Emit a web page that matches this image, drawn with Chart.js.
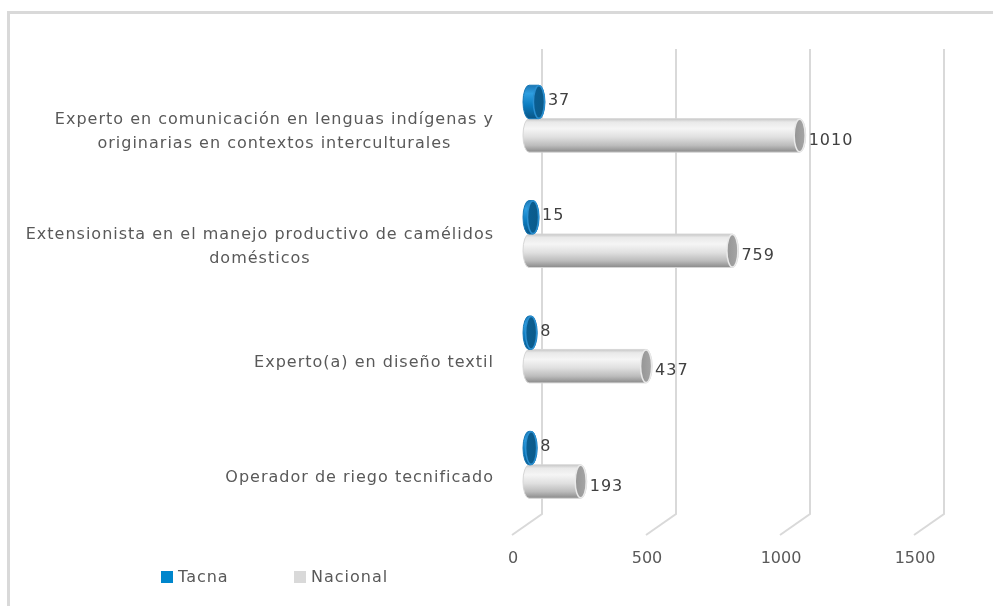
<!DOCTYPE html>
<html>
<head>
<meta charset="utf-8">
<script src="https://cdn.jsdelivr.net/npm/chart.js@4/dist/chart.umd.min.js"></script>
<style>
  html, body { margin: 0; padding: 0; background: #ffffff; }
  #wrap { width: 993px; height: 606px; position: relative; }
  canvas { display: block; }
</style>
</head>
<body>
<div id="wrap"><canvas id="c" width="993" height="606"></canvas></div>
<script>
// ---- data ----
const categories = [
  ['Experto en comunicación en lenguas indígenas y', 'originarias en contextos interculturales'],
  ['Extensionista en el manejo productivo de camélidos', 'domésticos'],
  ['Experto(a) en diseño textil'],
  ['Operador de riego tecnificado']
];
const seriesNames = ['Tacna', 'Nacional'];
const tacna = [37, 15, 8, 8];
const nacional = [1010, 759, 437, 193];
const xTickValues = [0, 500, 1000, 1500];

const FONT = '"DejaVu Sans", "Open Sans", sans-serif';
const legendColors = ['#0086CC', '#D9D9D9'];

function cylinder(ctx, x0, x1, yc, h, style) {
  const rx = 6, ry = h / 2;
  const top = yc - ry, bot = yc + ry;
  ctx.save();
  const g = ctx.createLinearGradient(0, top, 0, bot);
  style.body.forEach(s => g.addColorStop(s[0], s[1]));
  ctx.beginPath();
  ctx.moveTo(x1, top);
  ctx.lineTo(x0, top);
  ctx.ellipse(x0, yc, rx, ry, 0, -Math.PI / 2, Math.PI / 2, true);
  ctx.lineTo(x1, bot);
  ctx.ellipse(x1, yc, rx, ry, 0, Math.PI / 2, -Math.PI / 2, true);
  ctx.closePath();
  ctx.fillStyle = g;
  ctx.fill();
  ctx.lineWidth = 1;
  ctx.strokeStyle = style.outline;
  ctx.stroke();
  ctx.beginPath();
  ctx.ellipse(x1, yc, rx - 0.5, ry - 0.5, 0, 0, Math.PI * 2);
  const cg = ctx.createLinearGradient(x1 - rx, 0, x1 + rx, 0);
  cg.addColorStop(0, style.cap[0]);
  cg.addColorStop(1, style.cap[1]);
  ctx.fillStyle = cg;
  ctx.fill();
  ctx.lineWidth = 1.5;
  ctx.strokeStyle = style.rim;
  ctx.stroke();
  ctx.restore();
}

const styles = [
  {
    body: [[0, '#1c78b6'], [0.25, '#2e9ee0'], [0.6, '#0b7cc0'], [1, '#0a5585']],
    cap: ['#0a5f94', '#0c5a88'],
    rim: '#2a8fd0',
    outline: '#1677b5'
  },
  {
    body: [[0, '#c6c6c6'], [0.1, '#e9e9e9'], [0.3, '#f5f5f5'], [0.55, '#e0e0e0'], [0.8, '#bcbcbc'], [1, '#8a8a8a']],
    cap: ['#959595', '#a6a6a6'],
    rim: '#e9e9e9',
    outline: '#d6d6d6'
  }
];

const plugin3d = {
  id: 'plugin3d',
  beforeDraw(chart) {
    const ctx = chart.ctx;
    ctx.save();
    ctx.fillStyle = '#ffffff';
    ctx.fillRect(0, 0, chart.width, chart.height);
    ctx.strokeStyle = '#d9d9d9';
    ctx.lineWidth = 3;
    ctx.strokeRect(8.5, 12.5, 1000, 700);
    ctx.restore();
  },
  beforeDatasetsDraw(chart) {
    const ctx = chart.ctx;
    const xs = chart.scales.x;
    const area = chart.chartArea;
    ctx.save();
    ctx.strokeStyle = '#d9d9d9';
    ctx.lineWidth = 2;
    xTickValues.forEach(v => {
      const xb = Math.round(xs.getPixelForValue(v) + 13);
      ctx.beginPath();
      ctx.moveTo(xb, area.top - 12);
      ctx.lineTo(xb, area.bottom - 8.5);
      ctx.lineTo(xb - 30, area.bottom + 12.5);
      ctx.stroke();
    });
    ctx.restore();
    [1, 0].forEach(di => {
      const meta = chart.getDatasetMeta(di);
      meta.data.forEach(el => {
        const p = el.getProps(['x', 'y', 'base', 'height'], true);
        cylinder(ctx, p.base, p.x, p.y, p.height, styles[di]);
      });
    });
    ctx.save();
    ctx.font = '16px ' + FONT;
    ctx.letterSpacing = '1px';
    ctx.fillStyle = '#404040';
    ctx.textAlign = 'left';
    ctx.textBaseline = 'middle';
    [0, 1].forEach(di => {
      const meta = chart.getDatasetMeta(di);
      const vals = chart.data.datasets[di].data;
      meta.data.forEach((el, i) => {
        const p = el.getProps(['x', 'y'], true);
        ctx.fillText(String(vals[i]), p.x + 9, p.y + (di === 1 ? 5 : -1));
      });
    });
    ctx.restore();
    return false;
  },
  afterDraw(chart) {
    const ctx = chart.ctx;
    const ys = chart.scales.y;
    ctx.save();
    ctx.font = '16px ' + FONT;
    ctx.letterSpacing = '1px';
    ctx.fillStyle = '#595959';
    ctx.textAlign = 'center';
    ctx.textBaseline = 'middle';
    const rightEdge = 494, lh = 24;
    categories.forEach((lines, i) => {
      const yc = ys.getPixelForTick(i) + 13;
      const w = Math.max(...lines.map(l => ctx.measureText(l).width));
      const cx = rightEdge - w / 2;
      const y0 = yc - (lines.length - 1) * lh / 2;
      lines.forEach((l, k) => ctx.fillText(l, cx, y0 + k * lh));
    });
    const items = [{ x: 161 }, { x: 294 }];
    ctx.textAlign = 'left';
    chart.data.datasets.forEach((ds, i) => {
      ctx.fillStyle = legendColors[i];
      ctx.fillRect(items[i].x, 571, 12, 12);
      ctx.fillStyle = '#595959';
      ctx.fillText(ds.label, items[i].x + 17, 578);
    });
    ctx.restore();
  }
};

new Chart(document.getElementById('c'), {
  type: 'bar',
  data: {
    labels: categories,
    datasets: [
      { label: seriesNames[0], data: tacna, backgroundColor: legendColors[0] },
      { label: seriesNames[1], data: nacional, backgroundColor: legendColors[1] }
    ]
  },
  options: {
    indexAxis: 'y',
    responsive: false,
    animation: false,
    events: [],
    categoryPercentage: 0.58,
    barPercentage: 1.0,
    layout: { padding: { left: 0, right: 62, top: 61, bottom: 0 } },
    plugins: {
      legend: { display: false },
      tooltip: { enabled: false }
    },
    scales: {
      x: {
        min: 0,
        max: 1500,
        ticks: {
          stepSize: 500,
          labelOffset: -16,
          padding: 27,
          color: '#595959',
          font: { family: FONT, size: 16 },
          callback: (v) => String(v)
        },
        grid: { display: false, drawTicks: false },
        border: { display: false },
        afterFit(s) { s.height = 83.5; }
      },
      y: {
        ticks: { display: false },
        grid: { display: false, drawTicks: false },
        border: { display: false },
        afterFit(s) { s.width = 529; }
      }
    }
  },
  plugins: [plugin3d]
});
</script>
</body>
</html>
